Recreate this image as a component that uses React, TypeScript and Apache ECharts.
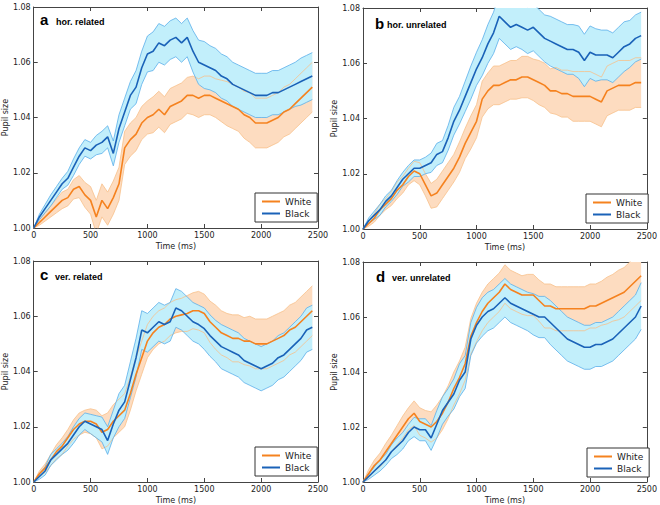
import React, { useEffect, useRef } from "react";
import * as echarts from "echarts";

// ---------- data ----------
const times = [
  0, 50, 100, 150, 200, 250, 300, 350, 400, 450,
  500, 550, 600, 650, 700, 750, 800, 850, 900, 950,
  1000, 1050, 1100, 1150, 1200, 1250, 1300, 1350, 1400, 1450,
  1500, 1550, 1600, 1650, 1700, 1750, 1800, 1850, 1900, 1950,
  2000, 2050, 2100, 2150, 2200, 2250, 2300, 2350, 2400, 2450,
];

const xTicks = [0, 500, 1000, 1500, 2000, 2500];
const yTicks = [1.0, 1.02, 1.04, 1.06, 1.08];

const seriesNames = ["White", "Black"];
const panelLetters = ["a", "b", "c", "d"];
const panelTitles = ["hor. related", "hor. unrelated", "ver. related", "ver. unrelated"];

// panel a
const aWhite = [
  1.000, 1.002, 1.004, 1.006, 1.008, 1.010, 1.011, 1.014, 1.015, 1.012,
  1.010, 1.004, 1.010, 1.007, 1.011, 1.016, 1.029, 1.032, 1.034, 1.038,
  1.040, 1.041, 1.043, 1.041, 1.044, 1.045, 1.046, 1.048, 1.048, 1.047,
  1.048, 1.048, 1.047, 1.046, 1.045, 1.044, 1.043, 1.041, 1.040, 1.038,
  1.038, 1.038, 1.039, 1.040, 1.042, 1.043, 1.045, 1.047, 1.049, 1.051,
];
const aWhiteErr = [
  0, 0.001, 0.0015, 0.002, 0.0025, 0.003, 0.003, 0.0035, 0.004, 0.0045,
  0.005, 0.006, 0.006, 0.006, 0.006, 0.006, 0.006, 0.006, 0.006, 0.006,
  0.006, 0.0065, 0.0065, 0.0065, 0.0065, 0.0065, 0.0065, 0.0065, 0.007, 0.007,
  0.007, 0.007, 0.007, 0.0075, 0.008, 0.008, 0.008, 0.0085, 0.009, 0.009,
  0.009, 0.009, 0.009, 0.009, 0.009, 0.009, 0.009, 0.009, 0.009, 0.009,
];
const aBlack = [
  1.000, 1.004, 1.007, 1.010, 1.013, 1.016, 1.018, 1.022, 1.026, 1.029,
  1.028, 1.030, 1.031, 1.033, 1.027, 1.036, 1.042, 1.048, 1.051, 1.058,
  1.063, 1.064, 1.067, 1.066, 1.068, 1.069, 1.067, 1.069, 1.064, 1.060,
  1.059, 1.058, 1.057, 1.055, 1.054, 1.052, 1.051, 1.050, 1.049, 1.048,
  1.048, 1.048, 1.049, 1.049, 1.050, 1.051, 1.052, 1.053, 1.054, 1.055,
];
const aBlackErr = [
  0, 0.001, 0.0015, 0.002, 0.002, 0.002, 0.0025, 0.003, 0.003, 0.003,
  0.003, 0.0035, 0.004, 0.004, 0.0045, 0.005, 0.005, 0.005, 0.006, 0.006,
  0.0065, 0.007, 0.007, 0.007, 0.007, 0.007, 0.007, 0.007, 0.0075, 0.008,
  0.0085, 0.008, 0.008, 0.008, 0.008, 0.008, 0.008, 0.008, 0.008, 0.008,
  0.008, 0.008, 0.008, 0.008, 0.008, 0.008, 0.008, 0.0085, 0.0085, 0.0085,
];

// panel b
const bWhite = [
  1.000, 1.002, 1.004, 1.007, 1.009, 1.011, 1.014, 1.016, 1.019, 1.021,
  1.020, 1.016, 1.012, 1.013, 1.016, 1.019, 1.022, 1.026, 1.031, 1.035,
  1.039, 1.047, 1.050, 1.052, 1.052, 1.053, 1.054, 1.054, 1.055, 1.055,
  1.054, 1.053, 1.052, 1.050, 1.050, 1.049, 1.049, 1.048, 1.048, 1.048,
  1.048, 1.047, 1.046, 1.050, 1.051, 1.052, 1.052, 1.052, 1.053, 1.053,
];
const bWhiteErr = [
  0, 0.001, 0.0015, 0.002, 0.002, 0.0025, 0.003, 0.003, 0.003, 0.0035,
  0.004, 0.004, 0.0045, 0.005, 0.005, 0.005, 0.005, 0.0055, 0.0055, 0.006,
  0.006, 0.0065, 0.0065, 0.007, 0.007, 0.007, 0.007, 0.007, 0.0075, 0.0075,
  0.0075, 0.008, 0.008, 0.008, 0.0085, 0.0085, 0.0085, 0.009, 0.009, 0.009,
  0.009, 0.009, 0.009, 0.009, 0.009, 0.009, 0.009, 0.009, 0.009, 0.009,
];
const bBlack = [
  1.000, 1.003, 1.005, 1.007, 1.010, 1.012, 1.015, 1.018, 1.020, 1.022,
  1.022, 1.023, 1.024, 1.027, 1.028, 1.033, 1.039, 1.043, 1.048, 1.053,
  1.058, 1.062, 1.067, 1.071, 1.077, 1.075, 1.073, 1.074, 1.073, 1.072,
  1.073, 1.071, 1.069, 1.068, 1.067, 1.066, 1.065, 1.065, 1.064, 1.061,
  1.064, 1.063, 1.063, 1.063, 1.062, 1.064, 1.066, 1.067, 1.069, 1.070,
];
const bBlackErr = [
  0, 0.001, 0.0015, 0.002, 0.002, 0.002, 0.0025, 0.0025, 0.003, 0.003,
  0.003, 0.003, 0.0035, 0.004, 0.004, 0.0045, 0.005, 0.005, 0.0055, 0.006,
  0.006, 0.0065, 0.007, 0.0075, 0.008, 0.008, 0.008, 0.008, 0.008, 0.0085,
  0.0085, 0.0085, 0.0085, 0.009, 0.009, 0.009, 0.009, 0.009, 0.0095, 0.0095,
  0.0095, 0.0095, 0.009, 0.009, 0.009, 0.009, 0.009, 0.0085, 0.0085, 0.0085,
];

// panel c
const cWhite = [
  1.000, 1.003, 1.005, 1.008, 1.011, 1.013, 1.016, 1.019, 1.021, 1.022,
  1.022, 1.021, 1.018, 1.019, 1.022, 1.024, 1.026, 1.032, 1.039, 1.045,
  1.051, 1.054, 1.056, 1.057, 1.059, 1.060, 1.0605, 1.061, 1.062, 1.062,
  1.061, 1.058, 1.056, 1.054, 1.053, 1.052, 1.052, 1.051, 1.051, 1.050,
  1.050, 1.050, 1.051, 1.052, 1.053, 1.055, 1.056, 1.058, 1.060, 1.062,
];
const cWhiteErr = [
  0, 0.001, 0.0015, 0.002, 0.0025, 0.003, 0.003, 0.0035, 0.004, 0.004,
  0.0045, 0.005, 0.006, 0.006, 0.006, 0.006, 0.006, 0.006, 0.006, 0.006,
  0.006, 0.006, 0.006, 0.006, 0.006, 0.006, 0.006, 0.0065, 0.0065, 0.007,
  0.007, 0.0075, 0.008, 0.008, 0.008, 0.0085, 0.0085, 0.0085, 0.009, 0.009,
  0.009, 0.009, 0.009, 0.009, 0.009, 0.009, 0.009, 0.009, 0.009, 0.009,
];
const cBlack = [
  1.000, 1.002, 1.004, 1.008, 1.010, 1.012, 1.014, 1.017, 1.020, 1.022,
  1.021, 1.020, 1.019, 1.015, 1.021, 1.026, 1.029, 1.037, 1.045, 1.055,
  1.054, 1.056, 1.058, 1.057, 1.058, 1.063, 1.062, 1.060, 1.058, 1.057,
  1.0555, 1.053, 1.051, 1.049, 1.048, 1.047, 1.046, 1.044, 1.043, 1.042,
  1.041, 1.042, 1.043, 1.045, 1.046, 1.048, 1.050, 1.052, 1.055, 1.056,
];
const cBlackErr = [
  0, 0.001, 0.0015, 0.002, 0.002, 0.002, 0.0025, 0.003, 0.003, 0.003,
  0.0035, 0.004, 0.0045, 0.005, 0.005, 0.006, 0.006, 0.0065, 0.007, 0.007,
  0.007, 0.007, 0.007, 0.007, 0.007, 0.007, 0.007, 0.007, 0.007, 0.007,
  0.0075, 0.0075, 0.0075, 0.008, 0.008, 0.008, 0.008, 0.008, 0.008, 0.008,
  0.008, 0.008, 0.008, 0.008, 0.008, 0.008, 0.008, 0.008, 0.008, 0.008,
];

// panel d
const dWhite = [
  1.000, 1.003, 1.006, 1.008, 1.011, 1.014, 1.017, 1.020, 1.023, 1.025,
  1.022, 1.021, 1.020, 1.022, 1.025, 1.029, 1.034, 1.038, 1.043, 1.053,
  1.058, 1.062, 1.065, 1.067, 1.069, 1.072, 1.070, 1.069, 1.068, 1.068,
  1.068, 1.066, 1.064, 1.064, 1.063, 1.063, 1.063, 1.063, 1.063, 1.063,
  1.064, 1.064, 1.065, 1.066, 1.067, 1.068, 1.069, 1.071, 1.073, 1.075,
];
const dWhiteErr = [
  0, 0.0015, 0.002, 0.0025, 0.003, 0.003, 0.0035, 0.004, 0.004, 0.0045,
  0.005, 0.005, 0.0055, 0.006, 0.006, 0.006, 0.006, 0.006, 0.006, 0.0065,
  0.007, 0.007, 0.007, 0.007, 0.007, 0.007, 0.007, 0.007, 0.007, 0.0075,
  0.0075, 0.0075, 0.008, 0.008, 0.008, 0.008, 0.008, 0.008, 0.008, 0.008,
  0.008, 0.008, 0.008, 0.0085, 0.0085, 0.009, 0.009, 0.009, 0.009, 0.009,
];
const dBlack = [
  1.000, 1.002, 1.004, 1.006, 1.008, 1.011, 1.013, 1.015, 1.018, 1.020,
  1.019, 1.019, 1.016, 1.021, 1.026, 1.029, 1.032, 1.037, 1.040, 1.052,
  1.057, 1.060, 1.062, 1.063, 1.065, 1.067, 1.065, 1.064, 1.063, 1.062,
  1.061, 1.060, 1.060, 1.058, 1.056, 1.054, 1.052, 1.051, 1.050, 1.049,
  1.049, 1.050, 1.050, 1.051, 1.052, 1.054, 1.056, 1.058, 1.060, 1.064,
];
const dBlackErr = [
  0, 0.001, 0.0015, 0.002, 0.002, 0.0025, 0.003, 0.003, 0.003, 0.0035,
  0.004, 0.004, 0.0045, 0.005, 0.005, 0.005, 0.0055, 0.006, 0.006, 0.006,
  0.0065, 0.007, 0.007, 0.007, 0.007, 0.007, 0.007, 0.007, 0.007, 0.007,
  0.0075, 0.0075, 0.0075, 0.008, 0.008, 0.008, 0.008, 0.008, 0.008, 0.008,
  0.008, 0.008, 0.008, 0.008, 0.008, 0.008, 0.008, 0.008, 0.008, 0.0085,
];

const whiteMeans = [aWhite, bWhite, cWhite, dWhite];
const whiteErrs = [aWhiteErr, bWhiteErr, cWhiteErr, dWhiteErr];
const blackMeans = [aBlack, bBlack, cBlack, dBlack];
const blackErrs = [aBlackErr, bBlackErr, cBlackErr, dBlackErr];

// ---------- layout / style ----------
const GRIDS = [
  { left: 32, top: 7, width: 286, height: 221 },
  { left: 363, top: 8, width: 286, height: 221 },
  { left: 32, top: 261, width: 286, height: 221 },
  { left: 363, top: 262, width: 287, height: 221 },
];
const TITLE_POS = [
  { lx: 40, tx: 56, base: 25 },
  { lx: 375, tx: 387, base: 28.5 },
  { lx: 40, tx: 55, base: 280 },
  { lx: 376, tx: 392, base: 281.5 },
];

const FONT = "DejaVu Sans";
const AX = "#444";
const TXT = "#222";
const ORANGE = "#f5821f";
const BLUE = "#1a62b8";
const ORANGE_FILL = "#fddcc0";
const BLUE_FILL = "#c2effb";
const ORANGE_EDGE = "#f7c08a";
const BLUE_EDGE = "#5aaeea";

function band(gi: number, mean: number[], err: number[], fill: string, z: number) {
  return {
    type: "custom",
    xAxisIndex: gi * 2,
    yAxisIndex: gi * 2,
    clip: true,
    silent: true,
    z,
    data: [[times[0], mean[0]]],
    renderItem: (params: any, api: any) => {
      const up = times.map((t, i) => api.coord([t, mean[i] + err[i]]));
      const lo = times.map((t, i) => api.coord([t, mean[i] - err[i]])).reverse();
      const cs = params.coordSys;
      return {
        type: "group",
        children: [
          {
            type: "polygon",
            shape: { points: up.concat(lo) },
            style: { fill, stroke: "none" },
          },
        ],
        clipPath: { type: "rect", shape: { x: cs.x, y: cs.y, width: cs.width, height: cs.height } },
      };
    },
  };
}

function edge(gi: number, mean: number[], err: number[], sign: number, color: string) {
  return {
    type: "line",
    xAxisIndex: gi * 2,
    yAxisIndex: gi * 2,
    silent: true,
    showSymbol: false,
    symbol: "none",
    z: 3,
    lineStyle: { color, width: 0.8 },
    data: times.map((t, i) => [t, mean[i] + sign * err[i]]),
  };
}

function meanLine(gi: number, name: string, mean: number[], color: string, z: number) {
  return {
    type: "line",
    name,
    color,
    xAxisIndex: gi * 2,
    yAxisIndex: gi * 2,
    showSymbol: false,
    symbol: "none",
    z,
    lineStyle: { color, width: 1.6 },
    data: times.map((t, i) => [t, mean[i]]),
  };
}

function buildOption() {
  const xAxis: any[] = [];
  const yAxis: any[] = [];
  const series: any[] = [];
  const graphic: any[] = [];
  const legend: any[] = [];

  GRIDS.forEach((g, gi) => {
    const xCommon = {
      type: "value",
      gridIndex: gi,
      min: xTicks[0],
      max: xTicks[xTicks.length - 1],
      interval: xTicks[1] - xTicks[0],
      axisLine: { show: true, onZero: false, lineStyle: { color: AX, width: 1 } },
      axisTick: { show: true, inside: true, length: 4, lineStyle: { color: AX } },
      splitLine: { show: false },
    };
    xAxis.push({
      ...xCommon,
      position: "bottom",
      axisLabel: {
        show: true,
        margin: 3,
        fontSize: 8,
        color: TXT,
        fontFamily: FONT,
        formatter: (v: number) => String(Math.round(v)),
      },
      name: "Time (ms)",
      nameLocation: "middle",
      nameGap: 14,
      nameTextStyle: { fontSize: 8, color: TXT, fontFamily: FONT },
    });
    xAxis.push({ ...xCommon, position: "top", axisLabel: { show: false } });

    const yCommon = {
      type: "value",
      gridIndex: gi,
      min: yTicks[0],
      max: yTicks[yTicks.length - 1],
      interval: 0.02,
      axisLine: { show: true, onZero: false, lineStyle: { color: AX, width: 1 } },
      axisTick: { show: true, inside: true, length: 4, lineStyle: { color: AX } },
      splitLine: { show: false },
    };
    yAxis.push({
      ...yCommon,
      position: "left",
      axisLabel: {
        show: true,
        margin: 3,
        fontSize: 8,
        color: TXT,
        fontFamily: FONT,
        formatter: (v: number) => v.toFixed(2),
      },
      name: "Pupil size",
      nameLocation: "middle",
      nameGap: 23,
      nameTextStyle: { fontSize: 8, color: TXT, fontFamily: FONT },
    });
    yAxis.push({ ...yCommon, position: "right", axisLabel: { show: false } });

    series.push(band(gi, whiteMeans[gi], whiteErrs[gi], ORANGE_FILL, 1));
    series.push(band(gi, blackMeans[gi], blackErrs[gi], BLUE_FILL, 2));
    series.push(edge(gi, whiteMeans[gi], whiteErrs[gi], 1, ORANGE_EDGE));
    series.push(edge(gi, whiteMeans[gi], whiteErrs[gi], -1, ORANGE_EDGE));
    series.push(edge(gi, blackMeans[gi], blackErrs[gi], 1, BLUE_EDGE));
    series.push(edge(gi, blackMeans[gi], blackErrs[gi], -1, BLUE_EDGE));
    series.push(meanLine(gi, seriesNames[0], whiteMeans[gi], ORANGE, 4));
    series.push(meanLine(gi, seriesNames[1], blackMeans[gi], BLUE, 5));

    const tp = TITLE_POS[gi];
    graphic.push({
      type: "text",
      x: tp.lx,
      y: tp.base - 5.2,
      z: 10,
      style: {
        text: panelLetters[gi],
        fontSize: 15,
        fontWeight: "bold",
        fontFamily: "Liberation Sans",
        fill: "#000",
        verticalAlign: "middle",
      },
    });
    graphic.push({
      type: "text",
      x: tp.tx,
      y: tp.base - 3.1,
      z: 10,
      style: {
        text: panelTitles[gi],
        fontSize: 9,
        fontWeight: "bold",
        fontFamily: "Liberation Sans",
        fill: "#000",
        verticalAlign: "middle",
      },
    });

    legend.push({
      left: g.left + g.width - 63,
      top: g.top + g.height - 35,
      orient: "vertical",
      data: seriesNames,
      icon: "rect",
      itemWidth: 18,
      itemHeight: 2,
      itemGap: 3,
      padding: [4, 6, 4, 7],
      borderColor: "#333",
      borderWidth: 1,
      borderRadius: 0,
      backgroundColor: "#fff",
      selectedMode: false,
      textStyle: { fontSize: 9, color: TXT, fontFamily: FONT },
    });
  });

  return {
    animation: false,
    backgroundColor: "#fff",
    grid: GRIDS.map((g) => ({ ...g, containLabel: false })),
    xAxis,
    yAxis,
    series,
    legend,
    graphic,
  };
}

export default function App() {
  const ref = useRef<HTMLDivElement>(null);
  useEffect(() => {
    const chart = echarts.init(ref.current!, undefined, { renderer: "svg" });
    chart.setOption(buildOption() as any);
    return () => chart.dispose();
  }, []);
  return (
    <div
      ref={ref}
      style={{ position: "fixed", left: 0, top: 0, width: 660, height: 505, background: "#fff" }}
    />
  );
}
